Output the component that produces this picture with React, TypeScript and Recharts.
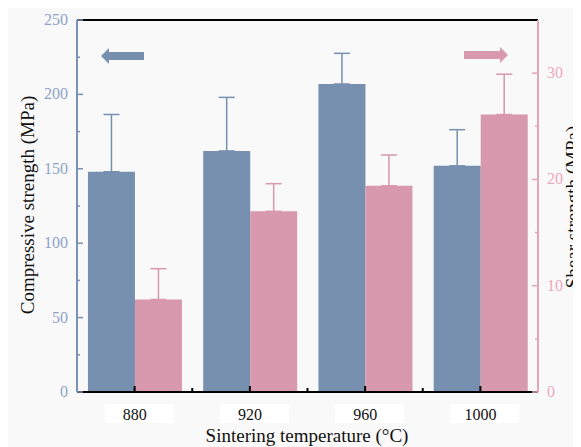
import React from "react";
import {
  Bar,
  BarChart,
  ErrorBar,
  ReferenceLine,
  XAxis,
  YAxis,
} from "recharts";

// values
const temps = ["880", "920", "960", "1000"];
const compressive = [148, 162, 207, 152];
const compressiveErr = [38.5, 36, 20.6, 24.3];
const shear = [8.7, 17.0, 19.4, 26.1];
const shearErr = [2.9, 2.6, 2.9, 3.8];
const leftTicks = [0, 25, 50, 75, 100, 125, 150, 175, 200, 225, 250];
const rightTicks = [0, 5, 10, 15, 20, 25, 30, 35];

const data = temps.map((t, i) => ({
  temp: t,
  comp: compressive[i],
  compErr: [0, compressiveErr[i]],
  shear: shear[i],
  shearErr: [0, shearErr[i]],
}));

const W = 573;
const H = 439;
const FONT = '"Liberation Serif", "Times New Roman", serif';
const BLUE = "#7790b0";
const PINK = "#d898ad";
const BLUE_AXIS = "#7b91b5";
const PINK_AXIS = "#e2a5b9";
const PLOT_L = 69;
const PLOT_R = 530;
const BAND = (PLOT_R - PLOT_L) / temps.length;

function LeftTick(props: any) {
  const { x, y, payload } = props;
  const major = payload.value % 50 === 0;
  return (
    <g>
      <line x1={x} x2={x + (major ? 6 : 3)} y1={y} y2={y} stroke={BLUE_AXIS} strokeWidth={1.5} />
      {major && (
        <text x={x - 9} y={y} dy={5} textAnchor="end" fill="#8fa3c6" fontSize={16} fontFamily={FONT}>
          {payload.value}
        </text>
      )}
    </g>
  );
}

function RightTick(props: any) {
  const { x, y, payload } = props;
  if (payload.value > 30) return null;
  const major = payload.value % 10 === 0;
  return (
    <g>
      <line x1={x} x2={x - (major ? 6 : 3)} y1={y} y2={y} stroke={PINK_AXIS} strokeWidth={1.5} />
      {major && (
        <text x={x + 9} y={y} dy={5} textAnchor="start" fill="#eda9bd" fontSize={16} fontFamily={FONT}>
          {payload.value}
        </text>
      )}
    </g>
  );
}

function BottomTick(props: any) {
  const { x, y, payload, index } = props;
  return (
    <g>
      <rect x={x - 30} y={y + 12} width={69} height={19} fill="#ffffff" />
      <line x1={x} x2={x} y1={y} y2={y - 6} stroke="#000" strokeWidth={2} />
      {index < temps.length - 1 && (
        <line x1={x + BAND / 2} x2={x + BAND / 2} y1={y} y2={y - 4} stroke="#000" strokeWidth={2} />
      )}
      <text x={x} y={y + 28} textAnchor="middle" fill="#111" fontSize={16} fontFamily={FONT}>
        {payload.value}
      </text>
    </g>
  );
}

export default function App() {
  return (
    <div style={{ position: "relative", width: W, height: H, background: "#f9f9f9" }}>
      <BarChart
        width={W}
        height={H}
        data={data}
        margin={{ top: 12, right: 0, bottom: 0, left: 0 }}
        barCategoryGap="9.5%"
        barGap={0}
      >
        <XAxis
          dataKey="temp"
          height={55}
          axisLine={{ stroke: "#000", strokeWidth: 2 }}
          tickLine={false}
          tickSize={0}
          tickMargin={0}
          tick={<BottomTick />}
          interval={0}
        />
        <YAxis
          yAxisId="l"
          orientation="left"
          width={69}
          domain={[0, 250]}
          ticks={leftTicks}
          interval={0}
          axisLine={{ stroke: BLUE_AXIS, strokeWidth: 2 }}
          tickLine={false}
          tickSize={0}
          tickMargin={0}
          tick={<LeftTick />}
        />
        <YAxis
          yAxisId="r"
          orientation="right"
          width={43}
          domain={[0, 35]}
          ticks={rightTicks}
          interval={0}
          axisLine={{ stroke: PINK_AXIS, strokeWidth: 2 }}
          tickLine={false}
          tickSize={0}
          tickMargin={0}
          tick={<RightTick />}
        />
        <ReferenceLine yAxisId="l" y={250} stroke="#000" strokeWidth={2} />
        <Bar yAxisId="l" dataKey="comp" fill={BLUE} isAnimationActive={false}>
          <ErrorBar dataKey="compErr" direction="y" width={8} stroke={BLUE} strokeWidth={1.5} />
        </Bar>
        <Bar yAxisId="r" dataKey="shear" fill={PINK} isAnimationActive={false}>
          <ErrorBar dataKey="shearErr" direction="y" width={8} stroke={PINK} strokeWidth={1.5} />
        </Bar>
      </BarChart>
      <svg
        width={W}
        height={H}
        style={{ position: "absolute", left: 0, top: 0, pointerEvents: "none" }}
      >
        <polygon
          points="93,48 101,40 101,44 136,44 136,52 101,52 101,56 93,48"
          fill={BLUE}
        />
        <polygon
          points="500,47 492,39 492,43 456,43 456,51 492,51 492,55 500,47"
          fill={PINK}
        />
        <text
          transform="translate(26,197) rotate(-90)"
          textAnchor="middle"
          fontSize={19}
          fontFamily={FONT}
          fill="#111"
        >
          Compressive strength (MPa)
        </text>
        <text
          transform="translate(571,199) rotate(-90)"
          textAnchor="middle"
          fontSize={19}
          fontFamily={FONT}
          fill="#111"
        >
          Shear strength (MPa)
        </text>
        <text x={299} y={434} textAnchor="middle" fontSize={19} fontFamily={FONT} fill="#111">
          Sintering temperature (°C)
        </text>
      </svg>
    </div>
  );
}
